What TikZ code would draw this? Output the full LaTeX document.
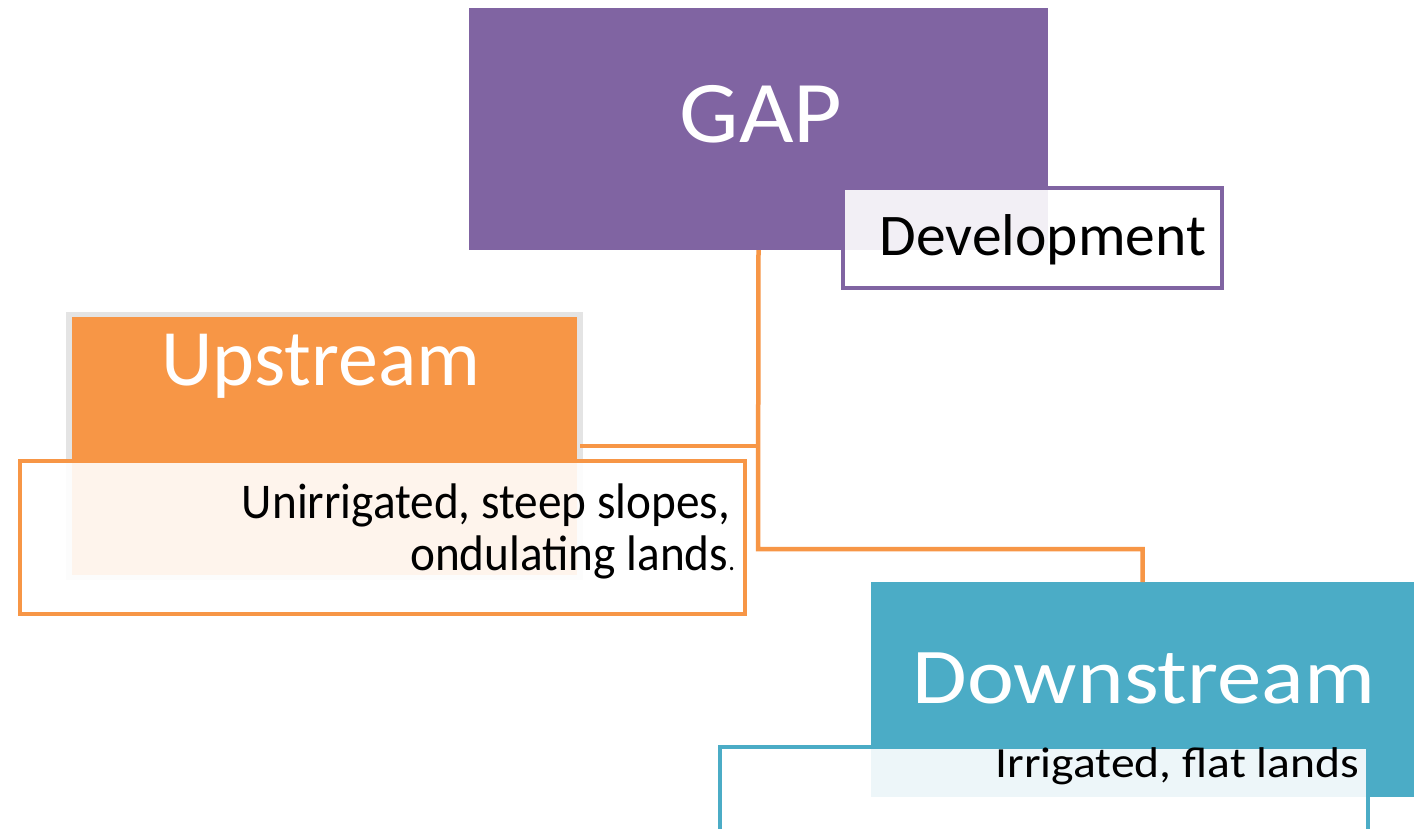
\documentclass[tikz,border=0pt]{standalone}
\usepackage{fontspec}
\usepackage{graphicx}
\setmainfont{Carlito}
\definecolor{gpurple}{HTML}{8064A2}
\definecolor{gorange}{HTML}{F79646}
\definecolor{gteal}{HTML}{4BACC6}
\definecolor{ggray}{HTML}{E4E4E4}
\tikzset{
  mainbox/.style={rectangle, inner sep=0pt, outer sep=0pt, draw=none},
  descbox/.style={rectangle, inner sep=0pt, outer sep=0pt, fill=white, fill opacity=0.9, draw opacity=1, line width=4pt},
  conn/.style={draw=gorange, line width=4.5pt},
  whitetxt/.style={text=white, inner sep=0pt, outer sep=0pt},
  blacktxt/.style={text=black, inner sep=0pt, outer sep=0pt},
}
\begin{document}
\begin{tikzpicture}[x=1pt,y=-1pt]
\useasboundingbox (0,0) rectangle (1414,828);
\clip (0,0) rectangle (1414,828);
\fill[white] (0,0) rectangle (1414,828);
% main boxes
\node[mainbox, fill=gpurple, minimum width=579pt, minimum height=242pt] (gap) at (758.5,129) {};
\node[mainbox, fill=gorange, draw=ggray, line width=5.5pt, minimum width=511pt, minimum height=263pt] (up) at (324.5,446) {};
\node[mainbox, fill=gteal, minimum width=543pt, minimum height=215pt] (down) at (1142.5,689.5) {};
% connectors
\coordinate (turn) at (758,549);
\draw[conn] (gap.south) -- (turn) -| (down.north);
\draw[conn] (up.east) -- (up.east -| gap.south);
% description boxes
\node[descbox, draw=gpurple, minimum width=379pt, minimum height=100pt] (dev) at (1032.5,238) {};
\node[descbox, draw=gorange, minimum width=725pt, minimum height=153pt] (upd) at (382,537) {};
\node[descbox, draw=gteal, minimum width=648pt, minimum height=110pt] (downd) at (1044,802) {};
% texts
\node[whitetxt, anchor=base] (gapt) at (761,142) {\scalebox{1.07}[1]{\fontsize{88}{88}\selectfont GAP}};
\node[blacktxt, anchor=base east] (devt) at (1206,255) {\scalebox{1.01}[1]{\fontsize{59}{59}\selectfont Development}};
\node[whitetxt, anchor=base] (upt) at (321,385) {\fontsize{80}{80}\selectfont Upstream};
\node[blacktxt, anchor=base east] (updt1) at (730,518) {\scalebox{0.945}[1]{\fontsize{50}{50}\selectfont Unirrigated, steep slopes,}};
\node[blacktxt, anchor=base east] (updt2) at (735,570) {\scalebox{0.945}[1]{\fontsize{50}{50}\selectfont ondulating lands{\fontsize{28}{28}\selectfont .}}};
\node[whitetxt, anchor=base] (downt) at (1144,703) {\scalebox{1.125}[1]{\fontsize{79}{79}\selectfont Downstream}};
\node[blacktxt, anchor=base east] (downdt) at (1359,777) {\scalebox{1.107}[1]{\fontsize{43}{43}\selectfont Irrigated, flat lands}};
\end{tikzpicture}
\end{document}
